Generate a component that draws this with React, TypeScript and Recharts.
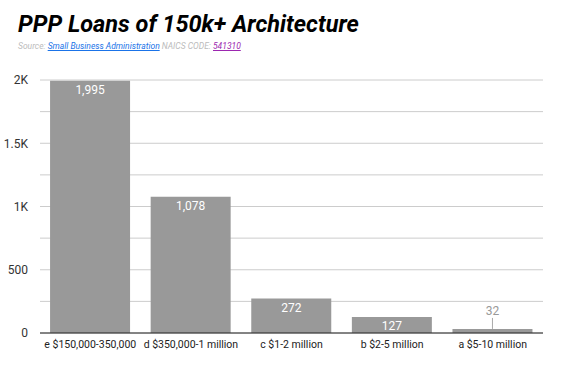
import React from 'react';
import { BarChart, Bar, XAxis, YAxis, CartesianGrid, LabelList } from 'recharts';

const categories = ['e $150,000-350,000', 'd $350,000-1 million', 'c $1-2 million', 'b $2-5 million', 'a $5-10 million'];
const loans = [1995, 1078, 272, 127, 32];
const yTicks = [0, 250, 500, 750, 1000, 1250, 1500, 1750, 2000];

const data = categories.map((name, i) => ({ name, loans: loans[i] }));

const fmtTick = (v: number) => {
  if (v % 500 !== 0) return '';
  if (v === 0) return '0';
  return v >= 1000 ? `${v / 1000}K` : String(v);
};

// small bars get their label above with a leader line
const ValueLabel = (props: any) => {
  const { x, y, width, height, value } = props;
  const cx = x + width / 2;
  const text = value.toLocaleString('en-US');
  if (height < 10) {
    return (
      <g>
        <line x1={cx} x2={cx} y1={y - 11} y2={y} stroke="#aaa" strokeWidth={1} />
        <text x={cx} y={y - 14} textAnchor="middle" fill="#999" fontSize={12} fontFamily="Roboto">
          {text}
        </text>
      </g>
    );
  }
  return (
    <text x={cx} y={y + 13} textAnchor="middle" fill="#fff" fontSize={12} fontFamily="Roboto">
      {text}
    </text>
  );
};

export default function App() {
  return (
    <div style={{ position: 'absolute', left: 0, top: 0, width: 562, height: 366, background: '#fff', fontFamily: 'Roboto' }}>
      <div style={{ position: 'absolute', left: 18, top: 10, fontSize: 23.5, fontWeight: 700, fontStyle: 'italic', color: '#000', whiteSpace: 'nowrap' }}>
        PPP Loans of 150k+ Architecture
      </div>
      <div style={{ position: 'absolute', left: 18, top: 41, fontSize: 8.5, fontStyle: 'italic', color: '#bbb', whiteSpace: 'nowrap' }}>
        Source: <span style={{ color: '#1a73e8', textDecoration: 'underline' }}>Small Business Administration</span> NAICS CODE:{' '}
        <span style={{ color: '#9c27b0', textDecoration: 'underline' }}>541310</span>
      </div>
      <div style={{ position: 'absolute', left: 0, top: 0 }}>
        <BarChart width={562} height={366} data={data} margin={{ top: 80, right: 19, left: 0, bottom: 9 }} barCategoryGap="10%">
          <CartesianGrid vertical={false} stroke="#ccc" />
          <XAxis
            dataKey="name"
            axisLine={{ stroke: '#222' }}
            tickLine={false}
            height={24}
            interval={0}
            tick={{ fill: '#222', fontSize: 10.5, fontFamily: 'Roboto' }}
          />
          <YAxis
            width={40}
            domain={[0, 2000]}
            ticks={yTicks}
            tickFormatter={fmtTick}
            axisLine={false}
            tickLine={false}
            tickMargin={6}
            tick={{ fill: '#333', fontSize: 12, fontFamily: 'Roboto' }}
          />
          <Bar dataKey="loans" fill="#999" isAnimationActive={false}>
            <LabelList dataKey="loans" content={ValueLabel} />
          </Bar>
        </BarChart>
      </div>
    </div>
  );
}
